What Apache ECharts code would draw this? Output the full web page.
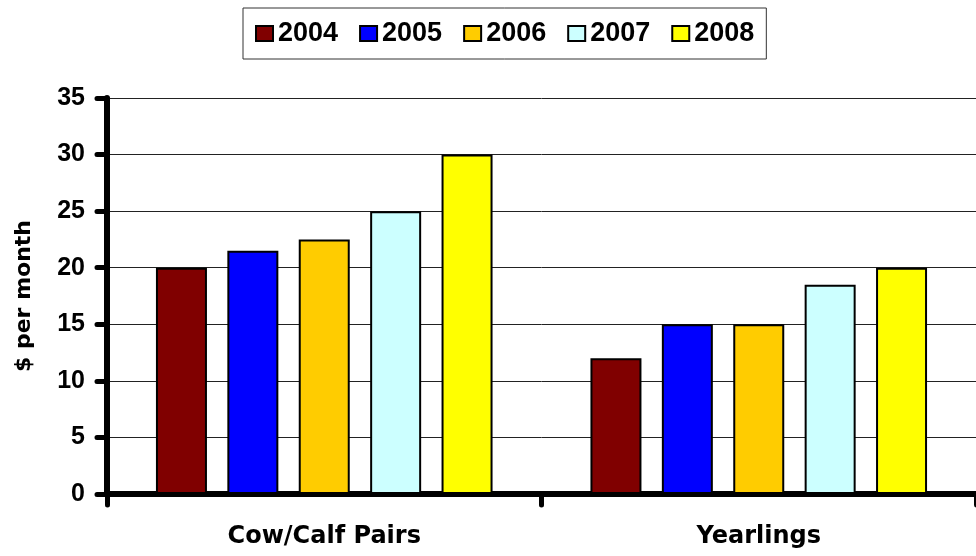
<!DOCTYPE html>
<html style="height: 100%">
<head>
<meta charset="utf-8">
<title>$ per month</title>
<script src="https://cdn.jsdelivr.net/npm/echarts@6/dist/echarts.min.js"></script>
</head>
<body style="height: 100%; margin: 0; background: #fff">
<div id="container" style="width: 976px; height: 556px"></div>
<script type="text/javascript">
// data
var categories = ['Cow/Calf Pairs', 'Yearlings'];
var years = ['2004', '2005', '2006', '2007', '2008'];
var colors = ['#800000', '#0000FF', '#FFCC00', '#CCFFFF', '#FFFF00'];
var v2004 = [20, 12];
var v2005 = [21.5, 15];
var v2006 = [22.5, 15];
var v2007 = [25, 18.5];
var v2008 = [30, 20];
var values = [v2004, v2005, v2006, v2007, v2008];

var dom = document.getElementById('container');
var myChart = echarts.init(dom);

var series = [];
for (var i = 0; i < years.length; i++) {
  series.push({
    name: years[i],
    type: 'bar',
    data: values[i],
    barWidth: 51,
    barGap: '40%',
    itemStyle: {
      color: colors[i],
      borderColor: '#000',
      borderWidth: 2
    }
  });
}

var option = {
  backgroundColor: '#fff',
  animation: false,
  legend: {
    data: years,
    left: 243,
    top: 8,
    padding: [12, 12],
    itemWidth: 17,
    itemHeight: 15,
    itemGap: 21,
    borderColor: '#333',
    borderWidth: 1,
    icon: 'rect',
    textStyle: {
      fontFamily: 'Liberation Sans',
      fontWeight: 'bold',
      fontSize: 27,
      color: '#000'
    }
  },
  grid: {
    left: 107,
    top: 98,
    bottom: 62,
    right: -11
  },
  xAxis: {
    type: 'category',
    data: categories,
    axisLine: { lineStyle: { color: '#000', width: 6, cap: 'round' } },
    axisTick: { show: true, length: 11, lineStyle: { color: '#000', width: 5, cap: 'round' } },
    axisLabel: {
      margin: 31,
      fontFamily: 'DejaVu Sans',
      fontWeight: 'bold',
      fontSize: 24,
      color: '#000'
    }
  },
  yAxis: {
    type: 'value',
    min: 0,
    max: 35,
    interval: 5,
    name: '$ per month',
    nameLocation: 'middle',
    nameGap: 72,
    nameTextStyle: {
      fontFamily: 'DejaVu Sans',
      fontWeight: 'bold',
      fontSize: 22,
      color: '#000'
    },
    axisLine: { show: true, lineStyle: { color: '#000', width: 6, cap: 'round' } },
    axisTick: { show: true, length: 10, lineStyle: { color: '#000', width: 5, cap: 'round' } },
    axisLabel: {
      margin: 22,
      fontFamily: 'Liberation Sans',
      fontWeight: 'bold',
      fontSize: 25,
      color: '#000'
    },
    splitLine: { lineStyle: { color: '#222', width: 1 } }
  },
  series: series
};

myChart.setOption(option);
</script>
</body>
</html>
